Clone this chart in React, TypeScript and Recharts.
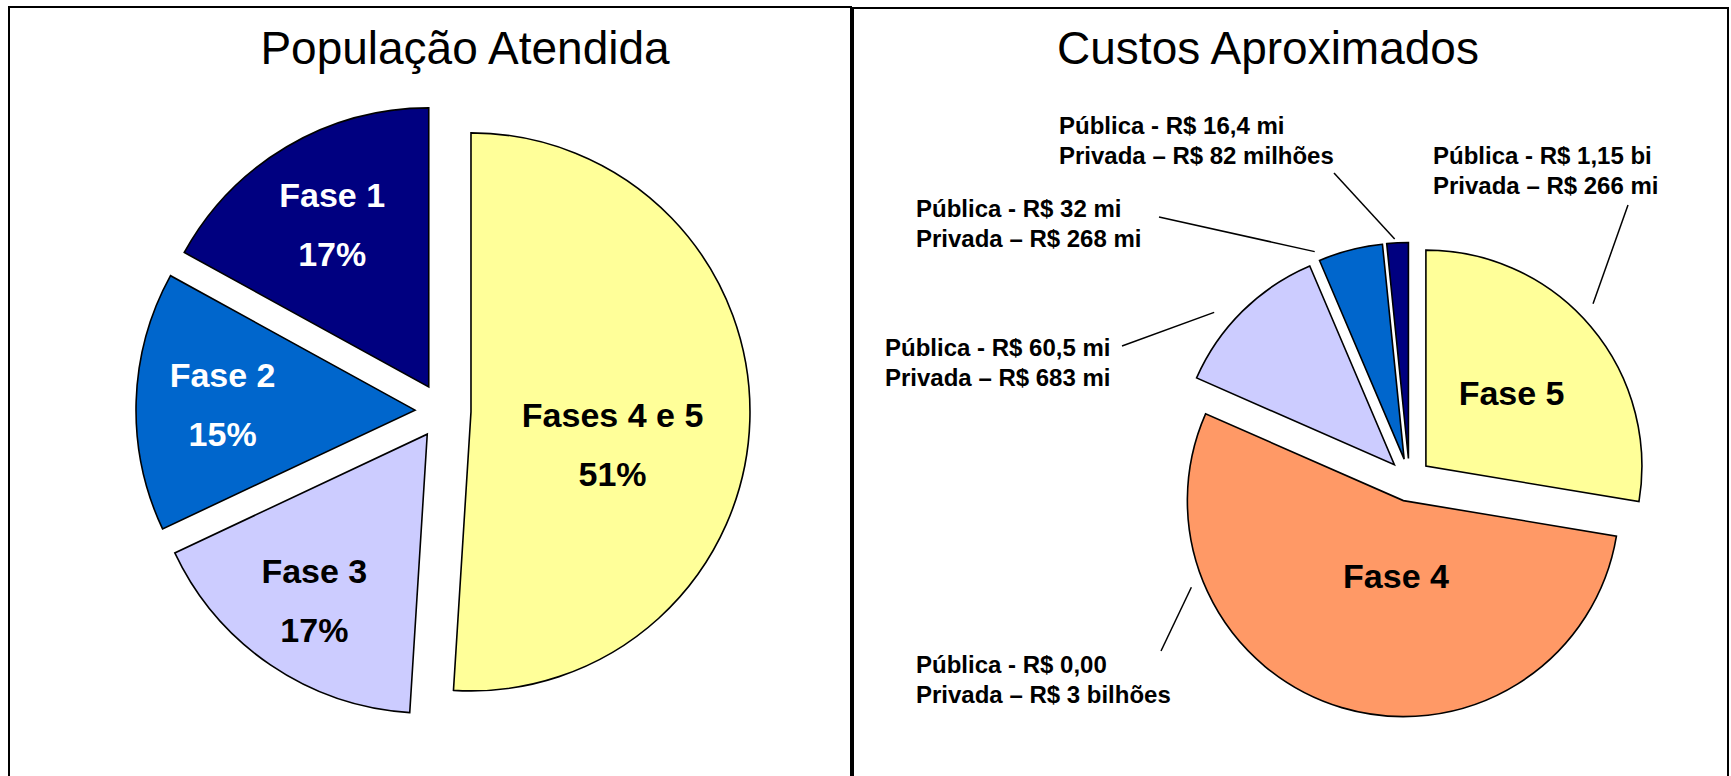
import { PieChart, Pie, Cell } from 'recharts'

// População atendida, fatias em sentido horário a partir do topo
const popNomes = ['Fases 4 e 5', 'Fase 3', 'Fase 2', 'Fase 1']
const popPct = [51, 17, 15, 17]

// Custos aproximados: fatia de cada fase (%), e os valores escritos nos rótulos
const custoNomes = ['Fase 5', 'Fase 4', 'Fase 3', 'Fase 2', 'Fase 1']
const custoPct = [27.6, 53.9, 12.0, 4.8, 1.6]
const custoPublica = ['R$ 1,15 bi', 'R$ 0,00', 'R$ 60,5 mi', 'R$ 32 mi', 'R$ 16,4 mi']
const custoPrivada = ['R$ 266 mi', 'R$ 3 bilhões', 'R$ 683 mi', 'R$ 268 mi', 'R$ 82 milhões']

const popData = popNomes.map((name, i) => ({ name, value: popPct[i] }))
const custoData = custoNomes.map((name, i) => ({ name, value: custoPct[i] }))

const POP_COLORS = ['#FFFF99', '#CCCCFF', '#0066CC', '#000080']
const POP_TEXT = ['#000', '#000', '#fff', '#fff']
const CUSTO_COLORS = ['#FFFF99', '#FF9966', '#CCCCFF', '#0066CC', '#000080']

const FONT = '"Liberation Sans", Arial, Helvetica, sans-serif'
const RAD = Math.PI / 180

// labels inside the slices: [fraction of radius, angle tweak in degrees]
const POP_LABEL_POS = [[0.52, -10.8], [0.72, 0], [0.69, 0], [0.68, 0]]
const CUSTO_INNER_POS = [[0.52, 0], [0.35, 11]]

// callouts: text left/baseline, line start near the text, end on the slice (angle tweak, radius)
const CUSTO_NOTES = [
  { x: 1433, y: 164, x1: 1628, y1: 205, rot: 3.9, rr: 233 },
  { x: 916, y: 673, x1: 1161, y1: 651, rot: -51.2, rr: 229 },
  { x: 885, y: 356, x1: 1122, y1: 346, rot: 5.1, rr: 236 },
  { x: 916, y: 217, x1: 1159, y1: 217, rot: 8.9, rr: 226 },
  { x: 1059, y: 134, x1: 1334, y1: 173, rot: 0.7, rr: 220 },
]

function midAngles(data: { value: number }[]) {
  const total = data.reduce((s, d) => s + d.value, 0)
  let acc = 0
  return data.map((d) => {
    const mid = 90 - ((acc + d.value / 2) / total) * 360
    acc += d.value
    return mid
  })
}

// one Pie per slice so every slice can be pulled out from the centre
function explodedSlices(
  key: string,
  data: { name: string; value: number }[],
  colors: string[],
  cx: number,
  cy: number,
  r: number,
  explode: number,
  label: (p: any) => any
) {
  const mids = midAngles(data)
  return data.map((_, i) => (
    <Pie
      key={`${key}-${i}`}
      data={data}
      dataKey="value"
      nameKey="name"
      cx={cx + explode * Math.cos(mids[i] * RAD)}
      cy={cy - explode * Math.sin(mids[i] * RAD)}
      outerRadius={r}
      startAngle={90}
      endAngle={-270}
      strokeWidth={1.6}
      isAnimationActive={false}
      labelLine={false}
      label={(p: any) => (p.index === i ? label(p) : <g />)}
    >
      {data.map((_, j) => (
        <Cell key={j} fill={j === i ? colors[j] : 'none'} stroke={j === i ? '#000' : 'none'} />
      ))}
    </Pie>
  ))
}

const popLabel = (p: any) => {
  const [f, rot] = POP_LABEL_POS[p.index]
  const a = (p.midAngle + rot) * RAD
  const x = p.cx + f * p.outerRadius * Math.cos(a)
  const y = p.cy - f * p.outerRadius * Math.sin(a)
  const style = { fontFamily: FONT, fontSize: 34, fontWeight: 700 }
  return (
    <g fill={POP_TEXT[p.index]}>
      <text x={x} y={y - 29} textAnchor="middle" dominantBaseline="central" style={style}>
        {popNomes[p.index]}
      </text>
      <text x={x} y={y + 30} textAnchor="middle" dominantBaseline="central" style={style}>
        {popPct[p.index]}%
      </text>
    </g>
  )
}

const custoLabel = (p: any) => {
  const i = p.index
  const n = CUSTO_NOTES[i]
  const a = (p.midAngle + n.rot) * RAD
  const x2 = p.cx + n.rr * Math.cos(a)
  const y2 = p.cy - n.rr * Math.sin(a)
  const inner = CUSTO_INNER_POS[i]
  const noteStyle = { fontFamily: FONT, fontSize: 24, fontWeight: 700 }
  let innerText = null
  if (inner) {
    const b = (p.midAngle + inner[1]) * RAD
    innerText = (
      <text
        x={p.cx + inner[0] * p.outerRadius * Math.cos(b)}
        y={p.cy - inner[0] * p.outerRadius * Math.sin(b)}
        textAnchor="middle"
        dominantBaseline="central"
        fill="#000"
        style={{ fontFamily: FONT, fontSize: 34, fontWeight: 700 }}
      >
        {custoNomes[i]}
      </text>
    )
  }
  return (
    <g>
      {innerText}
      <line x1={n.x1} y1={n.y1} x2={x2} y2={y2} stroke="#000" strokeWidth={1.5} />
      <text x={n.x} y={n.y} fill="#000" style={noteStyle}>
        Pública - {custoPublica[i]}
      </text>
      <text x={n.x} y={n.y + 30} fill="#000" style={noteStyle}>
        Privada – {custoPrivada[i]}
      </text>
    </g>
  )
}

const titleStyle = (center: number) => ({
  position: 'absolute' as const,
  left: center - 400,
  top: 25,
  width: 800,
  textAlign: 'center' as const,
  fontFamily: FONT,
  fontSize: 46,
  lineHeight: '46px',
  color: '#000',
})

const panelStyle = (left: number, top: number, width: number) => ({
  position: 'absolute' as const,
  left,
  top,
  width,
  height: 776 - top,
  boxSizing: 'border-box' as const,
  borderLeft: '2px solid #000',
  borderTop: '2px solid #000',
  borderRight: '2px solid #000',
})

export default function App() {
  return (
    <div
      style={{
        position: 'absolute',
        left: 0,
        top: 0,
        width: 1731,
        height: 776,
        overflow: 'hidden',
        background: '#fff',
      }}
    >
      <div style={panelStyle(8, 6, 844)} />
      <div style={panelStyle(852, 7, 877)} />
      <div style={titleStyle(465)}>População Atendida</div>
      <div style={titleStyle(1268)}>Custos Aproximados</div>
      <div style={{ position: 'absolute', left: 0, top: 0 }}>
        <PieChart width={1731} height={776} margin={{ top: 0, right: 0, bottom: 0, left: 0 }}>
          {explodedSlices('pop', popData, POP_COLORS, 443, 411, 279, 28, popLabel)}
          {explodedSlices('custo', custoData, CUSTO_COLORS, 1409.5, 480, 216, 21.5, custoLabel)}
        </PieChart>
      </div>
    </div>
  )
}
